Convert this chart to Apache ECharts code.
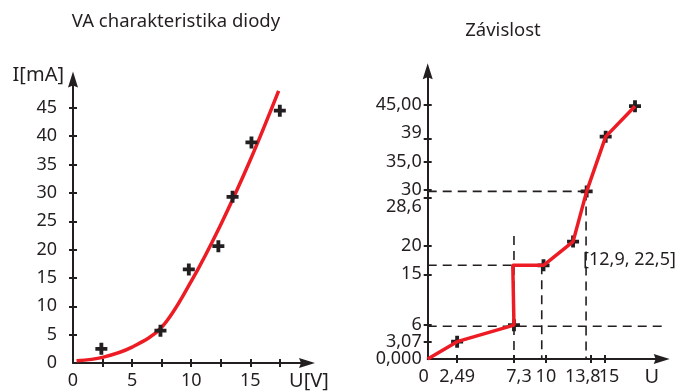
<!DOCTYPE html>
<html><head><meta charset="utf-8">
<script src="https://cdn.jsdelivr.net/npm/echarts@6/dist/echarts.min.js"></script>
<style>html,body{margin:0;padding:0;background:#fff}#c{width:675px;height:391px}</style>
</head><body><div id="c"></div>
<script>
// ---------- Left chart data ----------
const leftTitle = 'VA charakteristika diody';
const leftXName = 'U[V]';
const leftYName = 'I[mA]';
const leftXTicks = [2.5, 5, 7.5, 10, 12.5, 15, 17.5];
const leftXLabels = [0, 5, 10, 15];
const leftYTicks = [5, 10, 15, 20, 25, 30, 35, 40, 45];
const leftYLabels = [0, 5, 10, 15, 20, 25, 30, 35, 40, 45];
const leftPoints = [[2.4, 2.5], [7.4, 5.7], [9.8, 16.5], [12.3, 20.6], [13.5, 29.3], [15.1, 38.9], [17.5, 44.5]];
const leftTrend = [[0.3, 0.4], [2.5, 1.0], [5, 2.8], [7.5, 6.3], [10, 14.4], [12.5, 24.4], [15, 35.8], [17.4, 48.0]];

// ---------- Right chart data ----------
const rightTitle = 'Závislost';
const rightXName = 'U';
const rightXTicks = [2.49, 7.3, 10, 13.8, 15];
const rightXValues = [0, 2.49, 7.3, 10, 13.8, 15];
const rightXLabels = ['0', '2,49', '7,3', '10', '13,8', '15'];
const rightYValues = [0, 3.07, 6, 15, 20, 28.6, 30, 35, 39, 45];
const rightYLabels = ['0,000', '3,07', '6', '15', '20', '28,6', '30', '35,0', '39', '45,00'];
const rightLine = [[0, 0], [2.49, 3.07], [7.3, 6], [7.2, 16.6], [9.8, 16.6], [12.3, 20.8], [13.45, 29.7], [15.06, 39.4], [17.54, 44.8]];
const rightPoints = [[2.49, 3.07], [7.3, 6], [9.8, 16.6], [12.3, 20.8], [13.45, 29.7], [15.06, 39.4], [17.54, 44.8]];
const guideLines = [
  [[0, 29.7], [13.85, 29.7]],
  [[13.4, 29.7], [13.4, 0]],
  [[0, 16.6], [7.35, 16.6]],
  [[7.3, 21.8], [7.3, 0]],
  [[9.65, 16.6], [9.65, 0]],
  [[0, 5.8], [20.9, 5.8]]
];
const annotationText = '[12,9, 22,5]';
const annotationAt = [13.15, 17.6];

// ---------- Styling ----------
const INK = '#231f20';
const RED = '#ed1c24';
const FONT = 'Noto Sans';
const TICKFS = 18;
const NAMEFS = 20;
const PLUS = 'path://M3.4,0H6.6V3.4H10V6.6H6.6V10H3.4V6.6H0V3.4H3.4Z';
const ARROW = 'path://M5,0L10,16L5,14L0,16Z';
const tx = (pad) => ({ color: INK, fontSize: TICKFS, fontFamily: FONT, padding: pad });
const RICH = {
  dn: tx([18, 0, 0, 0]), up: tx([0, 0, 12, 0]),
  l8: tx([0, 16, 0, 0]), l4: tx([0, 8, 0, 0]), r5: tx([0, 0, 0, 10]), r4: tx([0, 0, 0, 8])
};

function mainAxis(gridIndex, pos, min, max, ticks, labelVals, fmt, margin, extra) {
  return Object.assign({
    type: 'value', gridIndex: gridIndex, position: pos, min: min, max: max,
    splitLine: { show: false },
    axisLine: { show: true, onZero: false, symbol: ['none', ARROW], symbolSize: [10, 16],
      lineStyle: { color: INK, width: 2 } },
    axisTick: { show: true, customValues: ticks, length: 4, lineStyle: { color: INK, width: 2 } },
    axisLabel: { show: true, customValues: labelVals, formatter: fmt, margin: margin,
      showMinLabel: true, showMaxLabel: true, rich: RICH,
      color: INK, fontSize: TICKFS, fontFamily: FONT, hideOverlap: false }
  }, extra || {});
}
function innerAxis(gridIndex, pos, min, max, ticks, labelVals, fmt, margin) {
  return {
    type: 'value', gridIndex: gridIndex, position: pos, min: min, max: max,
    splitLine: { show: false },
    axisLine: { show: false, onZero: false },
    axisTick: { show: true, inside: true, customValues: ticks, length: 4, lineStyle: { color: INK, width: 2 } },
    axisLabel: labelVals ? { show: true, customValues: labelVals, formatter: fmt, margin: margin,
      showMinLabel: true, showMaxLabel: true, rich: RICH,
      color: INK, fontSize: TICKFS, fontFamily: FONT, hideOverlap: false } : { show: false }
  };
}
const nameStyle = (align, va, pad) => ({ color: INK, fontSize: NAMEFS, fontFamily: FONT, align: align, verticalAlign: va, padding: pad });

function rightXFmt(v) {
  const s = rightXLabels[rightXValues.indexOf(v)];
  if (v === 0) return '{l4|' + s + '}';
  if (v === 7.3) return '{r5|' + s + '}';
  if (v === 13.8) return '{l8|' + s + '}';
  if (v === 15) return '{r4|' + s + '}';
  return s;
}
function rightYFmt(v) {
  const s = rightYLabels[rightYValues.indexOf(v)];
  if (v === 28.6) return '{dn|' + s + '}';
  if (v === 39) return '{up|' + s + '}';
  return s;
}
// labels that sit too close to a neighbour are drawn by the second (inner-tick) axis
const rightXMainLabels = rightXValues.filter(v => v !== 13.8);
const rightXInnerLabels = [13.8];
const rightYMainLabels = rightYValues.filter(v => v !== 3.07);
const rightYInnerLabels = [3.07];

const LXMAX = 19.8, LYMAX = 50, RXMAX = 19.8, RYMAX = 51;

const option = {
  animation: false,
  backgroundColor: '#fff',
  title: [
    { text: leftTitle, left: 176, top: 12, textAlign: 'center', padding: 0,
      textStyle: { color: INK, fontSize: 18.5, fontWeight: 'normal', fontFamily: FONT } },
    { text: rightTitle, left: 503, top: 21, textAlign: 'center', padding: 0,
      textStyle: { color: INK, fontSize: 18.5, fontWeight: 'normal', fontFamily: FONT } }
  ],
  grid: [
    { left: 73, top: 79.5, width: 234, height: 284.5 },
    { left: 427.7, top: 71.2, width: 234, height: 287.8 }
  ],
  xAxis: [
    mainAxis(0, 'bottom', 0, LXMAX, leftXTicks, leftXLabels, v => String(v), 9,
      { name: leftXName, nameLocation: 'end', nameGap: 2, nameTextStyle: nameStyle('center', 'top', [8, 0, 0, 0]) }),
    innerAxis(0, 'bottom', 0, LXMAX, leftXTicks),
    mainAxis(1, 'bottom', 0, RXMAX, rightXTicks, rightXMainLabels, rightXFmt, 9,
      { name: rightXName, nameLocation: 'end', nameGap: -10, nameTextStyle: nameStyle('center', 'top', [8, 0, 0, 0]) }),
    innerAxis(1, 'bottom', 0, RXMAX, rightXTicks, rightXInnerLabels, rightXFmt, 9)
  ],
  yAxis: [
    mainAxis(0, 'left', 0, LYMAX, leftYTicks, leftYLabels, v => String(v), 16,
      { name: leftYName, nameLocation: 'end', nameGap: 4.5, nameTextStyle: nameStyle('right', 'middle', [0, 9, 0, 0]) }),
    innerAxis(0, 'left', 0, LYMAX, leftYTicks),
    mainAxis(1, 'left', 0, RYMAX, rightYValues.slice(1), rightYMainLabels, rightYFmt, 6),
    innerAxis(1, 'left', 0, RYMAX, rightYValues.slice(1), rightYInnerLabels, rightYFmt, 6)
  ],
  series: [
    { type: 'line', xAxisIndex: 0, yAxisIndex: 0, data: leftTrend, smooth: 0.35,
      showSymbol: false, symbol: 'none', lineStyle: { color: RED, width: 3.5 }, z: 3 },
    { type: 'scatter', xAxisIndex: 0, yAxisIndex: 0, data: leftPoints, symbol: PLUS, symbolSize: 12,
      itemStyle: { color: INK, opacity: 1 }, z: 4 },
  ].concat(guideLines.map(g => ({
    type: 'line', xAxisIndex: 2, yAxisIndex: 2, data: g, showSymbol: false, symbol: 'none', clip: false,
    lineStyle: { color: INK, width: 1.6, type: [9, 6] }, z: 2
  }))).concat([
    { type: 'scatter', xAxisIndex: 2, yAxisIndex: 2, data: rightPoints, symbol: PLUS, symbolSize: 12,
      itemStyle: { color: INK, opacity: 1 }, z: 3 },
    { type: 'line', xAxisIndex: 2, yAxisIndex: 2, data: rightLine, showSymbol: false, symbol: 'none',
      lineStyle: { color: RED, width: 3.5 }, z: 4 },
    { type: 'scatter', xAxisIndex: 2, yAxisIndex: 2, data: [annotationAt], symbolSize: 0, silent: true,
      itemStyle: { opacity: 1 },
      label: { show: true, position: 'right', distance: 0, formatter: annotationText, opacity: 1,
        color: INK, fontSize: TICKFS, fontFamily: FONT }, z: 5 }
  ])
};

const chart = echarts.init(document.getElementById('c'), null, { renderer: 'canvas' });
chart.setOption(option);
</script>
</body></html>
